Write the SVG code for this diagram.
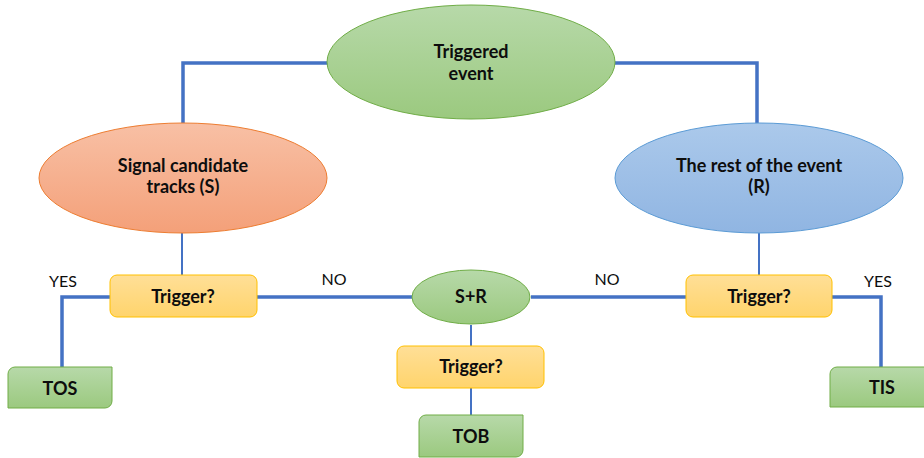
<svg xmlns="http://www.w3.org/2000/svg" width="924" height="458" viewBox="0 0 924 458">
<defs>
<linearGradient id="gG" x1="0" y1="0" x2="0" y2="1"><stop offset="0" stop-color="#b7d9a9"/><stop offset="1" stop-color="#9bc97f"/></linearGradient>
<linearGradient id="gO" x1="0" y1="0" x2="0" y2="1"><stop offset="0" stop-color="#f8c0a5"/><stop offset="1" stop-color="#f4a079"/></linearGradient>
<linearGradient id="gB" x1="0" y1="0" x2="0" y2="1"><stop offset="0" stop-color="#abc9eb"/><stop offset="1" stop-color="#90b5e2"/></linearGradient>
<linearGradient id="gY" x1="0" y1="0" x2="0" y2="1"><stop offset="0" stop-color="#ffdf97"/><stop offset="1" stop-color="#ffd46c"/></linearGradient>
</defs>
<style>
.t{font-family:Lato,"Open Sans","Liberation Sans",sans-serif;font-weight:bold;font-size:18px;fill:#0d0d0d;text-anchor:middle}
.l{font-family:Lato,"Open Sans","Liberation Sans",sans-serif;font-size:16px;fill:#0d0d0d;text-anchor:middle}
.c{fill:none;stroke:#4472c4;stroke-width:3.5}
.c2{fill:none;stroke:#4472c4;stroke-width:2}
.eg{fill:url(#gG);stroke:#70ad47;stroke-width:1}
.eo{fill:url(#gO);stroke:#ed7d31;stroke-width:1}
.eb{fill:url(#gB);stroke:#5b9bd5;stroke-width:1}
.tr{fill:url(#gY);stroke:#ffc000;stroke-width:1}
.rs{fill:url(#gG);stroke:#70ad47;stroke-width:1}
</style>
<g id="connectors">
<path class="c" d="M328 63 H183 V124"/>
<path class="c" d="M615 63 H757 V124"/>
<path class="c2" d="M182 233 V275"/>
<path class="c2" d="M759 233 V275"/>
<path class="c" d="M110 297 H62 V367"/>
<path class="c" d="M832 297 H881 V367"/>
<path class="c" d="M257 297 H412"/>
<path class="c" d="M531 297 H686"/>
<path class="c2" d="M471 325 V346"/>
<path class="c2" d="M471 388 V415"/>
</g>
<g id="labels">
<text class="l" x="63" y="287">YES</text>
<text class="l" x="334" y="285">NO</text>
<text class="l" x="607" y="285">NO</text>
<text class="l" x="878" y="287">YES</text>
</g>
<g id="triggered-event">
<ellipse class="eg" cx="471" cy="62" rx="144" ry="57"/>
<text class="t" x="471" y="58">Triggered</text>
<text class="t" x="471" y="80">event</text>
</g>
<g id="signal">
<ellipse class="eo" cx="183" cy="178" rx="144" ry="55"/>
<text class="t" x="183" y="172">Signal candidate</text>
<text class="t" x="183" y="193">tracks (S)</text>
</g>
<g id="rest">
<ellipse class="eb" cx="759" cy="178" rx="144" ry="55"/>
<text class="t" x="759" y="172">The rest of the event</text>
<text class="t" x="759" y="193">(R)</text>
</g>
<g id="trigger-left">
<rect class="tr" x="110" y="275" width="147" height="42" rx="7"/>
<text class="t" x="183" y="303">Trigger?</text>
</g>
<g id="sr">
<ellipse class="eg" cx="471" cy="297" rx="59" ry="27"/>
<text class="t" x="471" y="303">S+R</text>
</g>
<g id="trigger-right">
<rect class="tr" x="686" y="275" width="146" height="42" rx="7"/>
<text class="t" x="759" y="303">Trigger?</text>
</g>
<g id="trigger-mid">
<rect class="tr" x="397" y="346" width="147" height="42" rx="7"/>
<text class="t" x="471" y="373">Trigger?</text>
</g>
<g id="tos">
<path class="rs" d="M15 367 H112 V401 A7 7 0 0 1 105 408 H8 V374 A7 7 0 0 1 15 367 Z"/>
<text class="t" x="60" y="395">TOS</text>
</g>
<g id="tob">
<path class="rs" d="M426 415 H523 V450 A7 7 0 0 1 516 457 H419 V422 A7 7 0 0 1 426 415 Z"/>
<text class="t" x="471" y="443">TOB</text>
</g>
<g id="tis">
<path class="rs" d="M837 367 H930 V407 H830 V374 A7 7 0 0 1 837 367 Z"/>
<text class="t" x="882" y="394">TIS</text>
</g>
</svg>
